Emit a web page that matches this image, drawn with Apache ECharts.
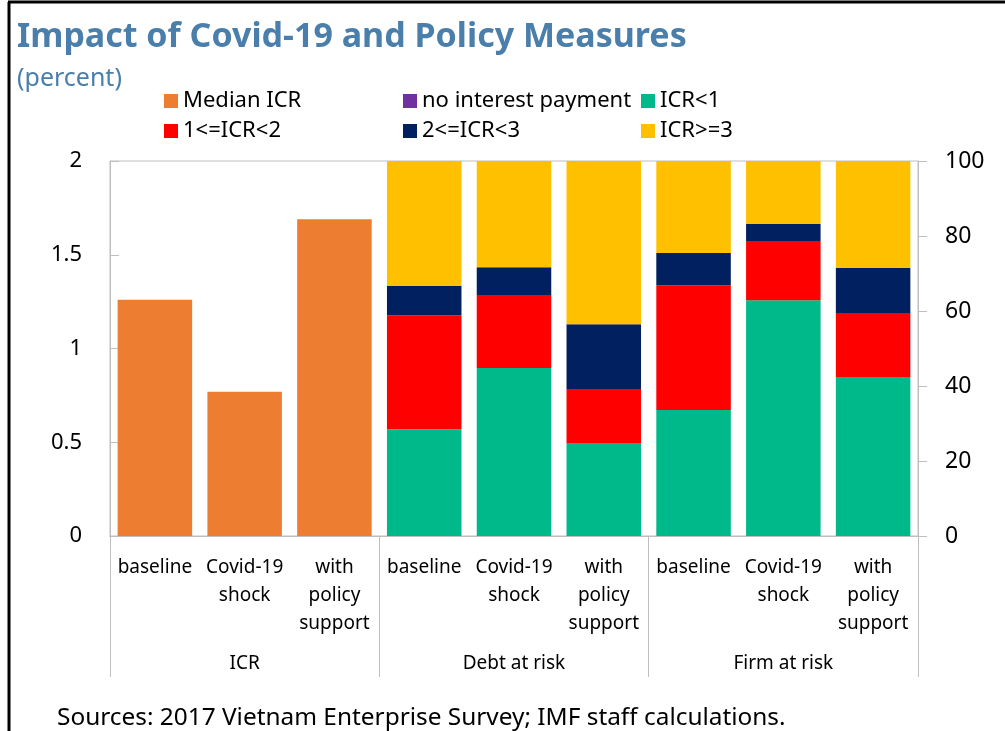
<!DOCTYPE html>
<html>
<head>
<meta charset="utf-8">
<script src="https://cdn.jsdelivr.net/npm/echarts@6/dist/echarts.min.js"></script>
<style>
  html, body { margin: 0; padding: 0; background: #fff; }
  #chart { width: 1005px; height: 731px; }
</style>
</head>
<body>
<div id="chart"></div>
<script>
// categories (bottom row) and groups (second row)
const categories = ["baseline", "Covid-19\nshock", "with\npolicy\nsupport",
                    "baseline", "Covid-19\nshock", "with\npolicy\nsupport",
                    "baseline", "Covid-19\nshock", "with\npolicy\nsupport"];
const groups = ["ICR", "Debt at risk", "Firm at risk"];

// left axis: median ICR
const medianICR = [1.26, 0.77, 1.69, null, null, null, null, null, null];

// right axis: shares in percent
const noInterest = [null, null, null, 0, 0, 0, 0, 0, 0];
const icrBelow1 = [null, null, null, 28.5, 44.8, 24.8, 33.6, 62.9, 42.4];
const icr1to2 = [null, null, null, 30.4, 19.5, 14.4, 33.3, 15.8, 17.1];
const icr2to3 = [null, null, null, 7.8, 7.4, 17.3, 8.6, 4.5, 12.0];
const icrAbove3 = [null, null, null, 33.3, 28.3, 43.5, 24.5, 16.8, 28.5];

const font = "Noto Sans";
const gray = "#bfbfbf";

const chart = echarts.init(document.getElementById("chart"));

function stackSeries(name, data, color) {
  return {
    name: name,
    type: "bar",
    stack: "share",
    xAxisIndex: 0,
    yAxisIndex: 1,
    barGap: "-100%",
    barCategoryGap: "17%",
    data: data,
    itemStyle: { color: color },
  };
}

const option = {
  animation: false,
  title: [
    {
      text: "Impact of Covid-19 and Policy Measures",
      left: 12,
      top: 15,
      textStyle: { fontFamily: font, fontSize: 34, fontWeight: "bold", color: "#4a7eab" },
    },
    {
      text: "(percent)",
      left: 12,
      top: 61,
      textStyle: { fontFamily: font, fontSize: 25, fontWeight: "normal", color: "#4a7eab" },
    },
    {
      text: "Sources: 2017 Vietnam Enterprise Survey; IMF staff calculations.",
      left: 52,
      top: 701,
      textStyle: { fontFamily: font, fontSize: 24.4, fontWeight: "normal", color: "#000" },
    },
  ],
  legend: [
    { data: ["Median ICR", "1<=ICR<2"], left: 164, top: 90 },
    { data: ["no interest payment", "2<=ICR<3"], left: 403, top: 90 },
    { data: ["ICR<1", "ICR>=3"], left: 641, top: 90 },
  ].map((l) => ({
    ...l,
    orient: "vertical",
    padding: 0,
    itemWidth: 14,
    itemHeight: 14,
    itemGap: 8,
    icon: "rect",
    textStyle: { fontFamily: font, fontSize: 22, color: "#000" },
  })),
  grid: {
    left: 110,
    right: 87,
    top: 161,
    bottom: 195,
    show: true,
    borderColor: gray,
    borderWidth: 1,
  },
  xAxis: [
    {
      type: "category",
      data: categories,
      axisLine: { lineStyle: { color: gray } },
      axisTick: { show: false },
      axisLabel: {
        interval: 0,
        margin: 18,
        fontFamily: font,
        fontSize: 19,
        lineHeight: 28,
        color: "#000",
      },
    },
    {
      // group row: boundary ticks act as the separators
      type: "category",
      data: groups,
      position: "bottom",
      axisLine: { show: true, lineStyle: { color: gray } },
      axisTick: { show: true, length: 141, lineStyle: { color: gray } },
      axisLabel: { interval: 0, margin: 118, fontFamily: font, fontSize: 19, color: "#000" },
    },
  ],
  yAxis: [
    {
      type: "value",
      min: 0,
      max: 2,
      interval: 0.5,
      axisLine: { show: true, lineStyle: { color: gray } },
      axisTick: { show: true, inside: true, length: 9, lineStyle: { color: gray } },
      axisLabel: { margin: 28, fontFamily: font, fontSize: 22, color: "#000" },
      splitLine: { show: false },
    },
    {
      type: "value",
      min: 0,
      max: 100,
      interval: 20,
      position: "right",
      axisLine: { show: true, lineStyle: { color: gray } },
      axisTick: { show: true, length: 9, lineStyle: { color: gray } },
      axisLabel: { margin: 27, fontFamily: font, fontSize: 23, color: "#000" },
      splitLine: { show: false },
    },
  ],
  series: [
    {
      name: "Median ICR",
      type: "bar",
      stack: "median",
      xAxisIndex: 0,
      yAxisIndex: 0,
      barGap: "-100%",
      barCategoryGap: "17%",
      data: medianICR,
      itemStyle: { color: "#ed7d31" },
    },
    stackSeries("no interest payment", noInterest, "#7030a0"),
    stackSeries("ICR<1", icrBelow1, "#00b98b"),
    stackSeries("1<=ICR<2", icr1to2, "#ff0000"),
    stackSeries("2<=ICR<3", icr2to3, "#002060"),
    stackSeries("ICR>=3", icrAbove3, "#ffc000"),
  ],
  graphic: [
    { type: "line", shape: { x1: 8, y1: 2, x2: 1005, y2: 2 }, style: { stroke: "#000", lineWidth: 3 } },
    { type: "line", shape: { x1: 9, y1: 2, x2: 9, y2: 731 }, style: { stroke: "#000", lineWidth: 3 } },
  ],
};

chart.setOption(option);
</script>
</body>
</html>
